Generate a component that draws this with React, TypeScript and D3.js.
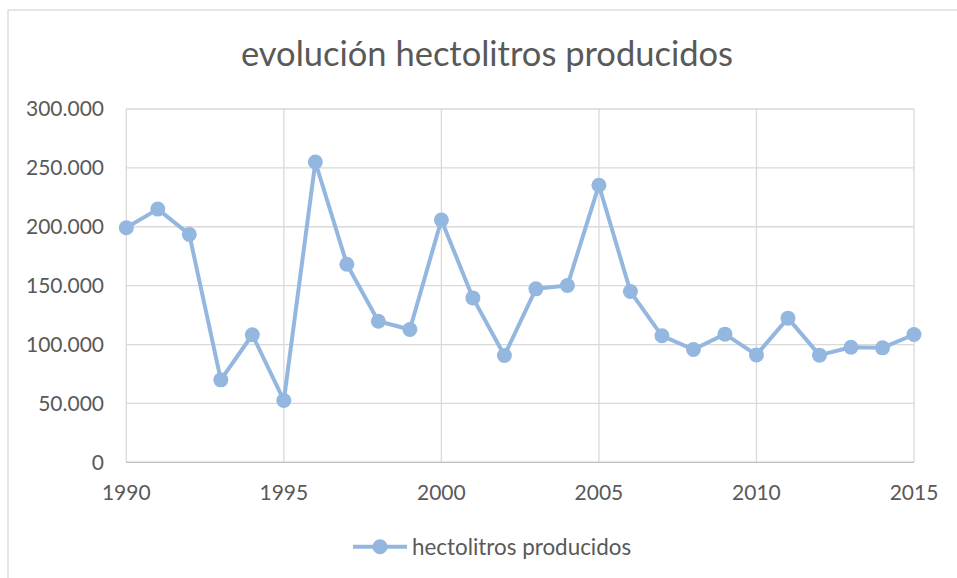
import React from "react";
import * as d3 from "d3";

const years = [1990,1991,1992,1993,1994,1995,1996,1997,1998,1999,2000,2001,2002,2003,2004,2005,2006,2007,2008,2009,2010,2011,2012,2013,2014,2015];
const hectolitros = [199200,215000,193500,70000,108300,52500,255000,168200,119800,112800,205800,139600,90700,147300,150100,235300,145000,107400,95800,108800,91200,122400,91000,97700,97200,108500];
const yTicks = [0,50000,100000,150000,200000,250000,300000];
const xTicks = [1990,1995,2000,2005,2010,2015];
const title = "evolución hectolitros producidos";
const seriesName = "hectolitros producidos";

const W = 957, H = 578;
const FONT = "Lato, 'Open Sans', sans-serif";
const TXT = "#595959";
const LINE = "#94b7e0";
const GRID = "#d9d9d9";

export default function App() {
  const x = d3.scaleLinear().domain([1990, 2015]).range([126.3, 914]);
  const y = d3.scaleLinear().domain([0, 300000]).range([462.3, 109]);
  const fmt = (v: number) => v === 0 ? "0" : d3.format(",")(v).replace(/,/g, ".");
  const line = d3.line<number>().x((_, i) => x(years[i])).y(d => y(d));
  return (
    <svg width={W} height={H} style={{ position: "absolute", left: 0, top: 0 }}>
      <rect x={0} y={0} width={W} height={H} fill="#fff" />
      <rect x={8} y={10} width={W + 20} height={H + 20} fill="#fff" stroke={GRID} strokeWidth={1.3} />
      <text x={487} y={66} textAnchor="middle" fontFamily={FONT} fontSize={34.5} fill={TXT}>{title}</text>
      {yTicks.map(t => (
        <g key={"y" + t}>
          <line x1={x(1990)} x2={x(2015)} y1={y(t)} y2={y(t)} stroke={GRID} strokeWidth={1.3} />
          <text x={104} y={y(t)} dy="0.35em" textAnchor="end" fontFamily={FONT} fontSize={21} fill={TXT}>{fmt(t)}</text>
        </g>
      ))}
      {xTicks.map(t => (
        <g key={"x" + t}>
          <line x1={x(t)} x2={x(t)} y1={y(0)} y2={y(300000)} stroke={GRID} strokeWidth={1.3} />
          <text x={x(t)} y={493} dy="0.35em" textAnchor="middle" fontFamily={FONT} fontSize={21} fill={TXT}>{t}</text>
        </g>
      ))}
      <line x1={x(1990)} x2={x(2015)} y1={y(0)} y2={y(0)} stroke="#bfbfbf" strokeWidth={1.3} />
      <path d={line(hectolitros) || ""} fill="none" stroke={LINE} strokeWidth={4} strokeLinejoin="round" />
      {hectolitros.map((v, i) => (
        <circle key={i} cx={x(years[i])} cy={y(v)} r={7.5} fill={LINE} />
      ))}
      <line x1={353} x2={407} y1={546.7} y2={546.7} stroke={LINE} strokeWidth={4} />
      <circle cx={380} cy={546.7} r={7.5} fill={LINE} />
      <text x={412} y={546.7} dy="0.35em" fontFamily={FONT} fontSize={22.4} fill={TXT}>{seriesName}</text>
    </svg>
  );
}
